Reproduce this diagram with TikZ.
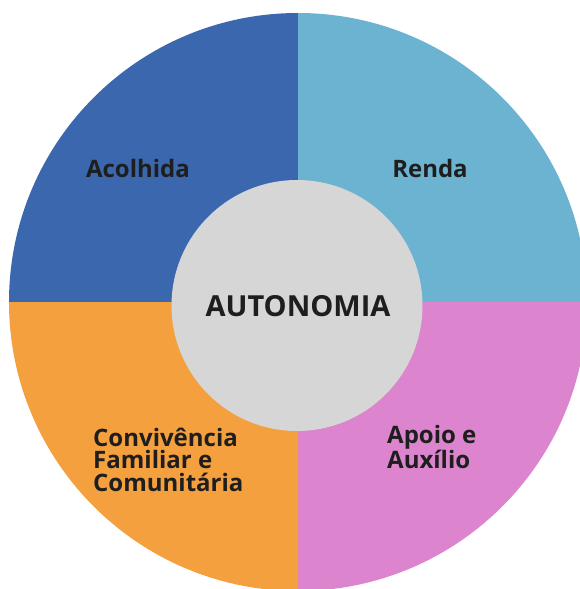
\documentclass[tikz,border=0pt]{standalone}
\usepackage{fontspec}
\setmainfont{Open Sans}
\definecolor{cblue}{RGB}{58,103,174}
\definecolor{clight}{RGB}{107,179,208}
\definecolor{corange}{RGB}{245,160,62}
\definecolor{cpink}{RGB}{220,132,206}
\definecolor{cgray}{RGB}{214,214,214}
\definecolor{ctext}{RGB}{30,30,30}
\tikzset{
  lbl/.style={inner sep=0pt, text=ctext, font=\bfseries\fontsize{24}{22.5}\selectfont, align=left},
  centrelbl/.style={inner sep=0pt, text=ctext, font=\bfseries\fontsize{29}{32}\selectfont},
}
\begin{document}
\begin{tikzpicture}[x={(1pt,0)}, y={(0,-1pt)}]
\useasboundingbox (0,0) rectangle (580,589);
\clip (0,0) rectangle (580,589);
\coordinate (c) at (298,302);
\fill[cblue]   (c) -- ++(-289,0) arc[start angle=180, end angle=90, x radius=289, y radius=-289] -- cycle;
\fill[clight]  (c) -- ++(0,-289) arc[start angle=90, end angle=0, x radius=289, y radius=-289] -- cycle;
\fill[cpink]   (c) -- ++(289,0) arc[start angle=0, end angle=-90, x radius=289, y radius=-289] -- cycle;
\fill[corange] (c) -- ++(0,289) arc[start angle=-90, end angle=-180, x radius=289, y radius=-289] -- cycle;
\node[circle, fill=cgray, minimum size=251pt, inner sep=0pt] (core) at (297,305.5) {};
\node[centrelbl, anchor=base] (auto) at (298,316.5) {AUTONOMIA};
\node[lbl, anchor=base] (acol) at (138,177) {Acolhida};
\node[lbl, anchor=base] (renda) at (430,177) {Renda};
\node[lbl, anchor=base west] (conv) at (93,491) {Convivência\\Familiar e\\Comunitária};
\node[lbl, anchor=base west] (apoio) at (387,468.5) {Apoio e\\Auxílio};
\end{tikzpicture}
\end{document}
